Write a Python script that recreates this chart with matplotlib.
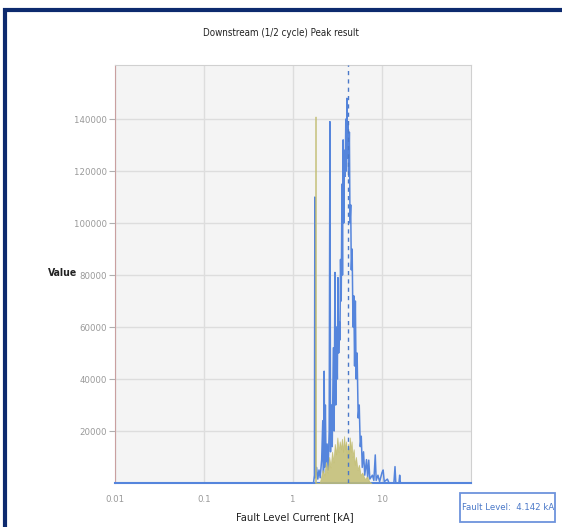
import matplotlib
matplotlib.use('Agg')
import matplotlib.pyplot as plt
from matplotlib.patches import Rectangle

# fonts - condensed face for the narrow screenshot look
plt.rcParams['font.family'] = ['DejaVu Sans']
plt.rcParams['font.stretch'] = 'condensed'

# blue series: fault current [kA] vs value
blue_x = [0.01, 1.70, 1.74, 1.76, 1.78, 1.84, 1.90, 1.96, 2.02, 2.10, 2.16, 2.20, 2.24, 2.27,
          2.31, 2.35, 2.42, 2.48, 2.55, 2.60, 2.64, 2.70, 2.76, 2.84, 2.90, 2.96, 3.02, 3.08,
          3.15, 3.20, 3.26, 3.32, 3.37, 3.42, 3.48, 3.55, 3.60, 3.66, 3.72, 3.78, 3.86, 3.92,
          3.98, 4.04, 4.10, 4.17, 4.23, 4.30, 4.37, 4.45, 4.52, 4.62, 4.72, 4.82, 4.92, 5.02,
          5.12, 5.25, 5.40, 5.55, 5.70, 5.85, 6.00, 6.20, 6.40, 6.70, 6.90, 7.10, 7.30, 7.80,
          8.10, 8.40, 8.60, 9.00, 9.40, 10.0, 10.3, 10.6, 11.5, 12.0, 13.6, 14.0, 14.3, 15.5,
          15.8, 16.1, 100]
blue_y = [0, 0, 3000, 110000, 2000, 6000, 1500, 5000, 2000, 9000, 24000, 4000, 43000, 6000,
          30000, 8000, 15000, 5000, 20000, 139000, 12000, 30000, 14000, 52000, 20000, 81000, 30000, 60000,
          40000, 79000, 50000, 62000, 55000, 86000, 70000, 115000, 80000, 132000, 100000, 128000, 118000, 140000,
          120000, 148000, 125000, 138000, 118000, 135000, 100000, 107000, 82000, 90000, 60000, 72000, 45000, 70000,
          40000, 50000, 25000, 30000, 14000, 18000, 6000, 12000, 3000, 9000, 2000, 8800, 1500, 3000,
          1000, 10800, 1000, 3000, 500, 4000, 5000, 500, 1500, 0, 0, 6300, 0, 0,
          3000, 0, 0]

# olive series
olive_x = [1.78, 1.79, 1.80, 2.00, 2.06, 2.15, 2.25, 2.35, 2.45, 2.55, 2.65, 2.75, 2.85, 2.95,
           3.05, 3.15, 3.25, 3.35, 3.45, 3.55, 3.65, 3.75, 3.85, 3.95, 4.05, 4.15, 4.25, 4.35,
           4.45, 4.55, 4.65, 4.80, 4.95, 5.10, 5.30, 5.50, 5.75, 6.00, 6.40, 6.80, 7.20, 7.60]
olive_y = [0, 141000, 0, 0, 2000, 5000, 3000, 8000, 4000, 10000, 6000, 12000, 8000, 15000,
           11000, 17500, 12000, 16000, 13000, 17000, 12000, 18000, 13000, 16000, 10000, 15000, 11000, 17500,
           12000, 16000, 10000, 13000, 7000, 10000, 5000, 7000, 3000, 4000, 1500, 2500, 500, 0]

fault_level = 4.142
y_ticks = [20000, 40000, 60000, 80000, 100000, 120000, 140000]
x_ticks = [0.01, 0.1, 1, 10]
x_labels = ['0.01', '0.1', '1', '10']

blue = '#5585dc'
olive = '#c2bd72'

fig = plt.figure(figsize=(5.62, 5.27), dpi=100)
ax = fig.add_axes([115/562, 44/527, 356/562, 418/527])
ax.set_facecolor('#f4f4f4')

ax.plot(blue_x, blue_y, color=blue, lw=1.1, zorder=3)
ax.fill_between(olive_x, olive_y, color=olive, alpha=0.85, lw=0.6, zorder=4)
ax.axvline(fault_level, color='#4a78c8', ls=(0, (3, 3)), lw=1, zorder=5)

ax.set_xscale('log')
ax.set_xlim(0.01, 100)
ax.set_ylim(0, 160800)
ax.set_xticks(x_ticks)
ax.set_xticklabels(x_labels)
ax.minorticks_off()
ax.set_yticks(y_ticks)
ax.set_yticklabels([str(v) for v in y_ticks])
ax.tick_params(axis='both', colors='#b0b0b0', labelcolor='#999999', labelsize=6.8, length=4, width=0.8)
ax.tick_params(axis='y', pad=2)
ax.tick_params(axis='x', length=0, pad=9)
ax.grid(True, color='#dddddd', lw=1)
ax.set_axisbelow(True)

for s in ['top', 'right']:
    ax.spines[s].set_color('#d0d0d0')
ax.spines['left'].set_color('#c9a0a0')
ax.spines['bottom'].set_color(blue)
ax.spines['bottom'].set_linewidth(1.5)

fig.text(0.5, 1 - 33/527, 'Downstream (1/2 cycle) Peak result', ha='center', va='center', fontsize=7, color='#222222')
fig.text(63/562, 1 - 273/527, 'Value', ha='center', va='center', fontsize=7.5, color='#222222', fontweight='bold')
fig.text(295/562, 1 - 517/527, 'Fault Level Current [kA]', ha='center', va='center', fontsize=8, color='#222222')

# fault level box
fig.patches.append(Rectangle((460/562, 1 - 522/527), 95/562, 29/527, transform=fig.transFigure,
                             facecolor='white', edgecolor='#6d93dc', lw=1.3))
fig.text(508/562, 1 - 508/527, 'Fault Level:  4.142 kA', ha='center', va='center', fontsize=6.8, color='#4a78c8')

# navy frame
fig.patches.append(Rectangle((5/562, -0.05), 1.2, 1 - 10/527 + 0.05, transform=fig.transFigure,
                             facecolor='none', edgecolor='#0d2a6e', lw=3))

fig.savefig('out.png', dpi=100)
